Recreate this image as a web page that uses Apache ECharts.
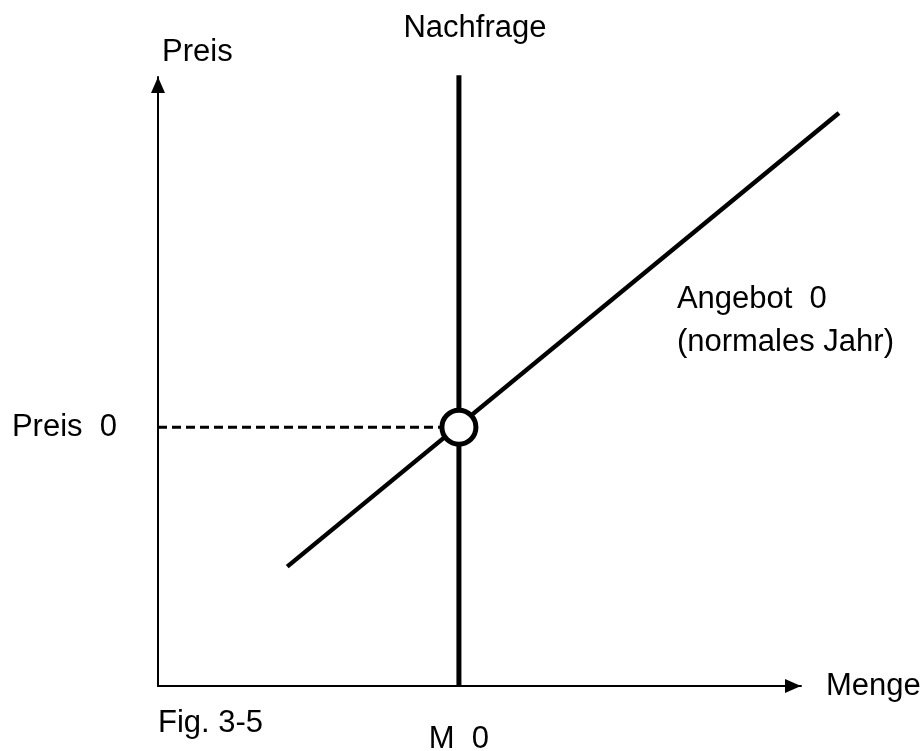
<!DOCTYPE html>
<html><head><meta charset="utf-8">
<script src="https://cdn.jsdelivr.net/npm/echarts@6/dist/echarts.min.js"></script>
<style>html,body{margin:0;padding:0;background:#fff}#c{width:924px;height:751px}</style>
</head><body><div id="c"></div>
<script>
// ---- data ----
const demandX = [46.8, 46.8];
const demandY = [0, 100.3];
const supplyX = [20.1, 105.9];
const supplyY = [19.6, 94.1];
const eqX = [46.8];
const eqY = [42.5];
const priceTickLabels = ['Preis  0'];
const quantityTickLabels = ['M  0'];
const axisNames = ['Menge', 'Preis'];
const curveLabels = ['Nachfrage', 'Angebot  0', '(normales Jahr)'];
const figLabel = 'Fig. 3-5';

(function () {
const FONT = 'Liberation Sans, Arial, sans-serif';
const FS = 31;
const GL = 158, GT = 77, GW = 643, GH = 609;

const chart = echarts.init(document.getElementById('c'), null, {renderer: 'canvas'});
const zip = (xs, ys) => xs.map((x, i) => [x, ys[i]]);

chart.setOption({
  backgroundColor: '#fff',
  animation: false,
  grid: [
    {left: GL, top: GT, width: GW, height: GH, containLabel: false, outerBoundsMode: 'none'},
    // same scale as grid 0, just larger extent so the marks are never clipped
    {left: GL, top: GT + GH - GH * 1.1, width: GW * 1.1, height: GH * 1.1, containLabel: false, outerBoundsMode: 'none'}
  ],
  xAxis: [{
    gridIndex: 0, type: 'value', min: 0, max: 100,
    name: axisNames[0], nameLocation: 'end', nameGap: 25,
    nameTextStyle: {fontFamily: FONT, fontSize: FS, color: '#000', verticalAlign: 'middle'},
    axisLine: {show: true, onZero: false, symbol: ['none', 'triangle'], symbolSize: [14, 16], symbolOffset: [0, -8],
      lineStyle: {color: '#000', width: 2}},
    axisTick: {show: false},
    splitLine: {show: false},
    axisLabel: {show: true, customValues: eqX, formatter: () => quantityTickLabels[0],
      margin: 38, fontFamily: FONT, fontSize: FS, color: '#000'}
  }, {
    gridIndex: 1, type: 'value', min: 0, max: 110, show: false
  }],
  yAxis: [{
    gridIndex: 0, type: 'value', min: 0, max: 100,
    name: axisNames[1], nameLocation: 'end', nameGap: 9,
    nameTextStyle: {fontFamily: FONT, fontSize: FS, color: '#000', align: 'left', padding: [0, 0, 0, 4]},
    axisLine: {show: true, onZero: false, symbol: ['none', 'triangle'], symbolSize: [14, 16], symbolOffset: [0, -8],
      lineStyle: {color: '#000', width: 2}},
    axisTick: {show: false},
    splitLine: {show: false},
    axisLabel: {show: true, customValues: eqY, formatter: () => priceTickLabels[0],
      margin: 41, padding: [10, 0, 0, 0], fontFamily: FONT, fontSize: FS, color: '#000'}
  }, {
    gridIndex: 1, type: 'value', min: 0, max: 110, show: false
  }],
  series: [
    {type: 'line', name: 'Nachfrage', xAxisIndex: 1, yAxisIndex: 1, data: zip(demandX, demandY), symbol: 'none',
      lineStyle: {color: '#000', width: 5}, z: 3},
    {type: 'line', name: 'Angebot', xAxisIndex: 1, yAxisIndex: 1, data: zip(supplyX, supplyY), symbol: 'none',
      lineStyle: {color: '#000', width: 4.5}, z: 3},
    {type: 'line', name: 'Preis0', xAxisIndex: 1, yAxisIndex: 1, data: [[0, eqY[0]], [eqX[0], eqY[0]]], symbol: 'none',
      lineStyle: {color: '#000', width: 3, type: [9, 5]}, z: 2},
    {type: 'scatter', name: 'GG', xAxisIndex: 1, yAxisIndex: 1, data: zip(eqX, eqY), symbol: 'circle', symbolSize: 34,
      itemStyle: {color: '#fff', borderColor: '#000', borderWidth: 5, opacity: 1}, z: 5}
  ]
});

const px = (x, y) => chart.convertToPixel({gridIndex: 0}, [x, y]);
const dTop = px(demandX[1], demandY[1]);
const a1 = px(80.7, 63.4);
const a2 = px(80.7, 56.4);
const txt = (x, y, t, align) => ({type: 'text', x: x, y: y, z: 10,
  style: {text: t, fontFamily: FONT, fontSize: FS, fill: '#000', align: align || 'left', verticalAlign: 'middle'}});
chart.setOption({
  graphic: [
    txt(dTop[0] + 16, 28, curveLabels[0], 'center'),
    txt(a1[0], a1[1], curveLabels[1]),
    txt(a2[0], a2[1], curveLabels[2]),
    txt(158, 723, figLabel)
  ]
});
})();
</script>
</body></html>
